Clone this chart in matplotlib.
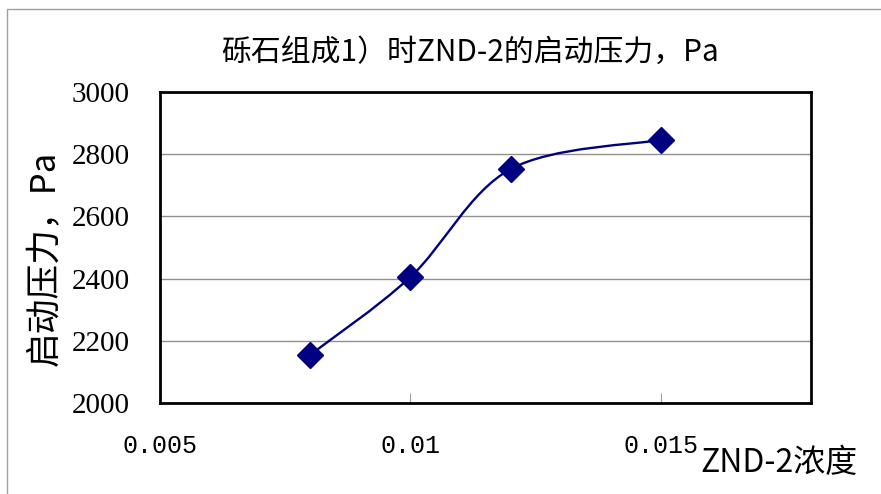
import numpy as np
import matplotlib
matplotlib.use("Agg")
import matplotlib.pyplot as plt
from matplotlib.path import Path
from matplotlib.patches import PathPatch, Rectangle

plt.rcParams['font.family'] = ['Noto Sans CJK SC', 'DejaVu Sans']

# data
conc = [0.008, 0.010, 0.012, 0.015]
pressure = [2155, 2405, 2752, 2846]
x_ticks = [0.005, 0.010, 0.015]
x_ticklabels = ['0.005', '0.01', '0.015']
y_ticks = [2000, 2200, 2400, 2600, 2800, 3000]

title = '砾石组成1）时ZND-2的启动压力，Pa'
ylabel = '启动压力，Pa'
xlabel = 'ZND-2浓度'

navy = '#000080'

fig = plt.figure(figsize=(8.81, 4.94), dpi=100)
ax = fig.add_axes([160/881, 1-403/494, 651/881, 311/494])

# smooth line (Catmull-Rom converted to cubic Bezier segments)
pts = np.column_stack([conc, pressure]).astype(float)
verts = [pts[0]]
codes = [Path.MOVETO]
n = len(pts)
for i in range(n - 1):
    p0 = pts[i - 1] if i > 0 else pts[i]
    p1 = pts[i]
    p2 = pts[i + 1]
    p3 = pts[i + 2] if i + 2 < n else pts[i + 1]
    c1 = p1 + (p2 - p0) / 6.0
    c2 = p2 - (p3 - p1) / 6.0
    verts += [c1, c2, p2]
    codes += [Path.CURVE4] * 3
ax.add_patch(PathPatch(Path(verts, codes), facecolor='none', edgecolor=navy,
                       lw=1.7, zorder=3))
ax.plot(conc, pressure, ls='none', marker='D', ms=13, color=navy, zorder=4)

ax.set_xlim(0.005, 0.018)
ax.set_ylim(2000, 3000)
ax.set_xticks(x_ticks)
ax.set_xticklabels(x_ticklabels, family='Liberation Mono', fontsize=18)
ax.set_yticks(y_ticks)
ax.set_yticklabels([str(v) for v in y_ticks], family='Liberation Serif', fontsize=21)
ax.tick_params(axis='x', direction='in', length=7, color='#a0a0a0', pad=22)
ax.tick_params(axis='y', length=0, pad=22)
ax.grid(axis='y', color='#909090', lw=1)
ax.set_axisbelow(True)
for s in ax.spines.values():
    s.set_linewidth(2)
    s.set_color('black')

fig.text(470/881, 1-52/494, title, ha='center', va='center', fontsize=21.5)
fig.text(45/881, 1-258/494, ylabel, ha='center', va='center', rotation=90, fontsize=25)
fig.text(700/881, 1-463/494, xlabel, ha='left', va='center', fontsize=23)

# chart-area border (top and left visible)
fig.patches.append(Rectangle((7/881, -0.1), 1.2, 1.1 - 9/494, transform=fig.transFigure,
                             fill=False, edgecolor='#a0a0a0', lw=1))

fig.savefig('out.png', dpi=100)
